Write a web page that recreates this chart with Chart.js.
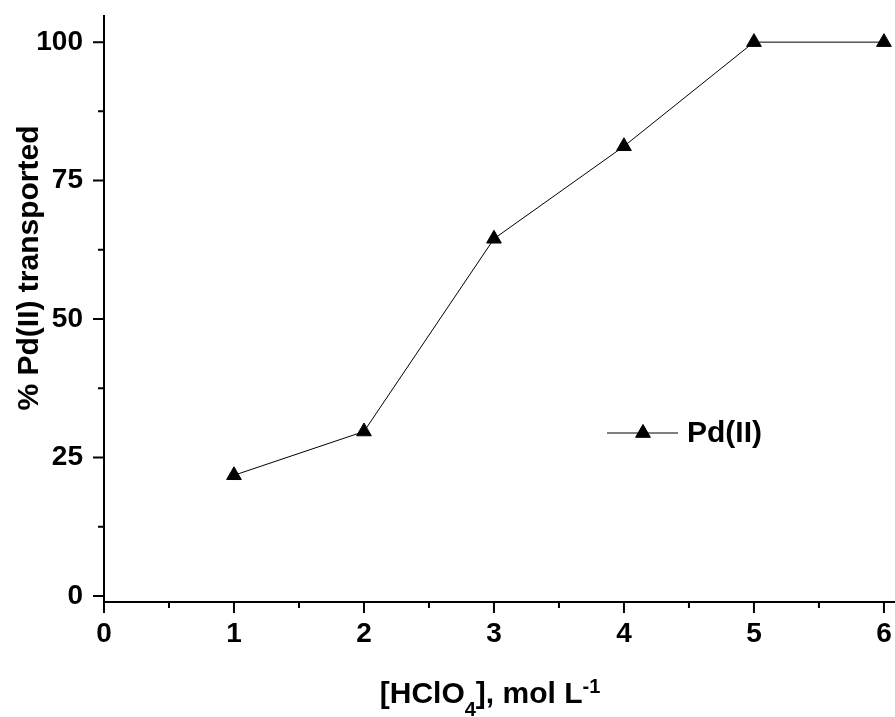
<!DOCTYPE html>
<html>
<head>
<meta charset="utf-8">
<script src="https://cdn.jsdelivr.net/npm/chart.js@4.4.0/dist/chart.umd.min.js"></script>
<style>
  html, body { margin: 0; padding: 0; background: #fff; }
  #wrap { width: 895px; height: 717px; position: relative; }
</style>
</head>
<body>
<div id="wrap"><canvas id="pdChart"></canvas></div>
<script>
// data
const hclo4Conc = [1, 2, 3, 4, 5, 6];
const pdTransported = [21.8, 29.7, 64.5, 81.2, 100, 100];
const seriesName = "Pd(II)";

// axis ticks
const xTickValues = [0, 1, 2, 3, 4, 5, 6];
const yTickValues = [0, 25, 50, 75, 100];

const FONT = "'Liberation Sans', Arial, sans-serif";

// minor ticks sit halfway between the major ones
function minorsOf(vals) {
    const out = [];
    for (let i = 0; i < vals.length - 1; i++) out.push((vals[i] + vals[i + 1]) / 2);
    return out;
}

// axes lines + major/minor ticks pointing outward
const axesPlugin = {
    id: 'axesPlugin',
    afterDraw(chart) {
        const { ctx, chartArea: a, scales: { x, y } } = chart;
        ctx.save();
        ctx.strokeStyle = '#000';
        ctx.lineWidth = 2;
        ctx.beginPath();
        ctx.moveTo(a.left, a.top);
        ctx.lineTo(a.left, a.bottom + 1);
        ctx.moveTo(a.left - 1, a.bottom);
        ctx.lineTo(a.right, a.bottom);
        ctx.stroke();

        ctx.beginPath();
        xTickValues.forEach(v => {
            const px = x.getPixelForValue(v);
            ctx.moveTo(px, a.bottom); ctx.lineTo(px, a.bottom + 11);
        });
        minorsOf(xTickValues).forEach(v => {
            const px = x.getPixelForValue(v);
            ctx.moveTo(px, a.bottom); ctx.lineTo(px, a.bottom + 6);
        });
        yTickValues.forEach(v => {
            const py = y.getPixelForValue(v);
            ctx.moveTo(a.left, py); ctx.lineTo(a.left - 11, py);
        });
        minorsOf(yTickValues).forEach(v => {
            const py = y.getPixelForValue(v);
            ctx.moveTo(a.left, py); ctx.lineTo(a.left - 6, py);
        });
        ctx.stroke();
        ctx.restore();
    }
};

// axis titles (x title needs sub/superscripts) and the legend
const titlesPlugin = {
    id: 'titlesPlugin',
    afterDraw(chart) {
        const ctx = chart.ctx;
        ctx.save();
        ctx.fillStyle = '#000';

        // y title
        ctx.translate(30, 268);
        ctx.rotate(-Math.PI / 2);
        ctx.font = 'bold 30px ' + FONT;
        ctx.textAlign = 'center';
        ctx.textBaseline = 'middle';
        ctx.fillText('% Pd(II) transported', 0, 0);
        ctx.setTransform(1, 0, 0, 1, 0, 0);

        // x title: [HClO4], mol L-1
        const parts = [
            { t: '[HClO', size: 30, dy: 0 },
            { t: '4', size: 20, dy: 13 },
            { t: '], mol L', size: 30, dy: 0 },
            { t: '-1', size: 20, dy: -10 }
        ];
        let total = 0;
        parts.forEach(p => {
            ctx.font = 'bold ' + p.size + 'px ' + FONT;
            p.w = ctx.measureText(p.t).width;
            total += p.w;
        });
        let cx = 490 - total / 2;
        const base = 703;
        ctx.textAlign = 'left';
        ctx.textBaseline = 'alphabetic';
        parts.forEach(p => {
            ctx.font = 'bold ' + p.size + 'px ' + FONT;
            ctx.fillText(p.t, cx, base + p.dy);
            cx += p.w;
        });

        // legend
        const ly = 433;
        ctx.strokeStyle = '#000';
        ctx.lineWidth = 1;
        ctx.beginPath();
        ctx.moveTo(607, ly);
        ctx.lineTo(678, ly);
        ctx.stroke();
        Chart.helpers.drawPoint(ctx, {
            pointStyle: 'triangle', radius: 8.5, rotation: 0, borderWidth: 1
        }, 643, ly);
        ctx.fill();
        ctx.font = 'bold 30px ' + FONT;
        ctx.textBaseline = 'middle';
        ctx.fillText(seriesName, 687, ly + 1);
        ctx.restore();
    }
};

const ctx = document.getElementById('pdChart').getContext('2d');
new Chart(ctx, {
    type: 'line',
    data: {
        datasets: [{
            label: seriesName,
            data: hclo4Conc.map((c, i) => ({ x: c, y: pdTransported[i] })),
            borderColor: '#000',
            borderWidth: 1,
            backgroundColor: '#000',
            pointStyle: 'triangle',
            pointRadius: 8.5,
            pointHoverRadius: 8.5,
            pointBackgroundColor: '#000',
            pointBorderColor: '#000',
            pointBorderWidth: 1,
            tension: 0,
            fill: false,
            clip: false
        }]
    },
    options: {
        responsive: true,
        maintainAspectRatio: false,
        animation: false,
        layout: { autoPadding: false, padding: { top: 15, right: 0, left: 0, bottom: 0 } },
        plugins: {
            legend: { display: false },
            tooltip: { enabled: false }
        },
        scales: {
            x: {
                type: 'linear',
                min: 0,
                max: 6.085,
                grid: { display: false, drawTicks: false },
                border: { display: false },
                afterBuildTicks: s => { s.ticks = xTickValues.map(v => ({ value: v })); },
                afterFit: s => {
                    s.height = 115;
                    s.paddingLeft = 0; s.paddingRight = 0;
                },
                ticks: {
                    color: '#000',
                    padding: 15,
                    maxRotation: 0,
                    autoSkip: false,
                    font: { family: FONT, size: 28, weight: 'bold' }
                }
            },
            y: {
                type: 'linear',
                min: -1.08,
                max: 104.9,
                grid: { display: false, drawTicks: false },
                border: { display: false },
                afterBuildTicks: s => { s.ticks = yTickValues.map(v => ({ value: v })); },
                afterFit: s => {
                    s.width = 104;
                    s.paddingTop = 0; s.paddingBottom = 0;
                },
                ticks: {
                    color: '#000',
                    padding: 21,
                    autoSkip: false,
                    font: { family: FONT, size: 28, weight: 'bold' }
                }
            }
        }
    },
    plugins: [axesPlugin, titlesPlugin]
});
</script>
</body>
</html>
